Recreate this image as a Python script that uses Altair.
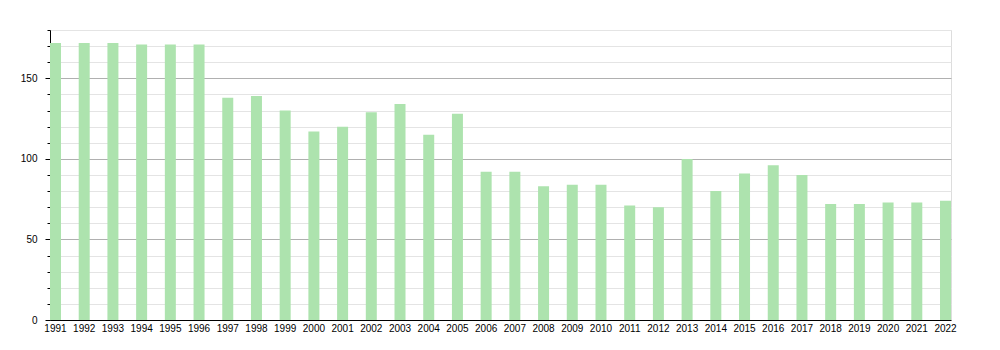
import altair as alt
import pandas as pd

years = [str(y) for y in range(1991, 2023)]
values = [172, 172, 172, 171, 171, 171, 138, 139, 130, 117, 120, 129, 134, 115, 128,
          92, 92, 83, 84, 84, 71, 70, 100, 80, 91, 96, 90, 72, 72, 73, 73, 74]
y_ticks = list(range(0, 190, 10))

df = pd.DataFrame({"year": years, "value": values})

chart = alt.Chart(df).mark_bar(color="#ade3ae").encode(
    x=alt.X("year:N", title=None, sort=None,
            scale=alt.Scale(paddingInner=0.617, paddingOuter=0),
            axis=alt.Axis(labelAngle=0, ticks=False, domainColor="black",
                          labelPadding=3, labelFont="Liberation Sans",
                          labelFontSize=10, labelColor="black", grid=False)),
    y=alt.Y("value:Q", title=None,
            scale=alt.Scale(domain=[0, 180], nice=False),
            axis=alt.Axis(values=y_ticks, domainColor="black", tickColor="black",
                          tickSize={"condition": {"test": "datum.value % 50 === 0", "value": 5}, "value": 3},
                          labelExpr="datum.value % 50 === 0 ? datum.label : ''",
                          labelPadding=8, labelFont="Liberation Sans",
                          labelFontSize=10, labelColor="black",
                          grid=True,
                          gridColor={"condition": {"test": "datum.value % 50 === 0 && datum.value > 0", "value": "#b0b0b0"}, "value": "#e4e4e4"})),
).properties(
    width=901, height=290,
    autosize=alt.AutoSizeParams(type="none"),
    padding={"left": 50, "top": 30, "right": 49, "bottom": 30},
).configure_view(stroke=None).configure(background="white")

chart.save("out.html", embed_options={"renderer": "svg", "actions": False})
